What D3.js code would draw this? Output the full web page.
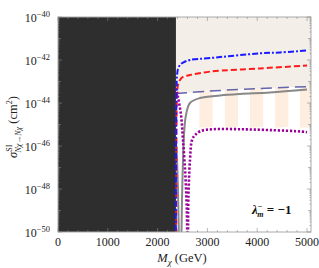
<!DOCTYPE html>
<html><head><meta charset="utf-8">
<script src="https://cdn.jsdelivr.net/npm/d3@7"></script>
<style>body{margin:0;background:#fff}svg{display:block}</style>
</head><body>
<svg id="c" width="319" height="268"></svg>
<script>
// ---- data (M in GeV, log10 sigma in cm^2) ----
const xTicks = [0, 1000, 2000, 3000, 4000, 5000];
const yTickExps = [-40, -42, -44, -46, -48, -50];
const excludedMax = 2368;
const stripeStarts = [2840, 3350, 3855, 4360, 4860];
const stripeWidth = 265;
const stripeBottomLog = [-45.15, -45.12];
const blueM   = [2366, 2370, 2380, 2390, 2409, 2450, 2510, 2650, 3053, 4057, 4458, 5000];
const blueLog = [-50.5, -46.2, -43.4, -42.7, -42.42, -42.23, -42.12, -42.0, -41.91, -41.69, -41.65, -41.56];
const redM    = [2374, 2378, 2390, 2409, 2450, 2510, 2650, 3053, 4057, 5000];
const redLog  = [-50.5, -45.72, -43.63, -43.16, -42.93, -42.79, -42.7, -42.54, -42.39, -42.26];
const slateM   = [2370, 3000, 4000, 5000];
const slateLog = [-43.56, -43.45, -43.33, -43.24];
const grayM   = [2380, 2409, 2430, 2459, 2480, 2490, 2510, 2530, 2570, 2650, 2852, 3253, 3654, 4257, 5000];
const grayLog = [-46.0, -48.0, -50.5, -53, -50.0, -48.5, -46.65, -45.5, -44.56, -44.0, -43.77, -43.65, -43.58, -43.51, -43.37];
const purpleM   = [2370, 2409, 2470, 2510, 2551, 2580, 2594, 2600, 2611, 2617, 2650, 2691, 2751, 2872, 3113, 3654, 4257, 4900, 5000];
const purpleLog = [-43.30, -43.72, -44.56, -45.72, -47.12, -48.51, -50.0, -53, -50.0, -48.51, -46.65, -45.72, -45.49, -45.3, -45.22, -45.22, -45.26, -45.33, -45.36];

const W = 319, H = 268;
const m = {l: 58, r: 8, t: 17, b: 36};
const xMaxDom = 5080;
const svg = d3.select('#c');
const x = d3.scaleLinear().domain([0, xMaxDom]).range([m.l, W - m.r]);
const y = d3.scaleLinear().domain([-50, -40]).range([H - m.b, m.t]);

svg.append('clipPath').attr('id', 'clip').append('rect')
  .attr('x', m.l).attr('y', m.t).attr('width', W - m.l - m.r).attr('height', H - m.t - m.b);
const g = svg.append('g').attr('clip-path', 'url(#clip)');
const pl = d3.line().x(d => x(d[0])).y(d => y(d[1]));

// beige allowed region above slate line
const slatePts = slateM.map((d, i) => [d, slateLog[i]]);
const lastSlate = slateLog[slateLog.length - 1];
g.append('path').attr('fill', '#f3eee7')
  .attr('d', pl([[excludedMax, -40], [xMaxDom, -40], [xMaxDom, lastSlate], ...slatePts.slice().reverse()]) + 'Z');

// stripes
const topAt = d3.scaleLinear().domain(slateM).range(slateLog);
stripeStarts.forEach(s => {
  const e = s + stripeWidth;
  const pts = [[s, topAt(s)], [e, topAt(e)], [e, stripeBottomLog[1]], [s, stripeBottomLog[0]]];
  g.append('path').attr('fill', '#fdeedf').attr('d', pl(pts) + 'Z');
});

// excluded dark region
g.append('rect').attr('x', x(0)).attr('y', y(-40))
  .attr('width', x(excludedMax) - x(0)).attr('height', y(-50) - y(-40)).attr('fill', '#2e2e2e');

function curve(ms, ls, color, w, dash) {
  g.append('path').attr('fill', 'none').attr('stroke', color).attr('stroke-width', w)
    .attr('stroke-dasharray', dash)
    .attr('d', d3.line().x(d => x(d[0])).y(d => y(d[1])).curve(d3.curveCatmullRom)(ms.map((d, i) => [d, ls[i]])));
}
curve(grayM, grayLog, '#888', 2, null);
curve(slateM, slateLog, '#6464aa', 1.5, '11,6');
curve(purpleM, purpleLog, '#990099', 2.6, '2.2,1.8');
curve(redM, redLog, '#ff1a1a', 2, '6,3');
curve(blueM, blueLog, '#1a1aff', 2, '6,2,2,2');

// frame
const fr = svg.append('g');
fr.append('rect').attr('x', m.l).attr('y', m.t).attr('width', W - m.l - m.r).attr('height', H - m.t - m.b)
  .attr('fill', 'none').attr('stroke', '#aaa').attr('stroke-width', 1);

// x ticks
d3.range(0, 5001, 200).forEach(v => {
  const maj = v % 1000 === 0;
  const len = maj ? 4 : 2;
  [[y(-50), -1], [y(-40), 1]].forEach(([yy, dir]) => {
    fr.append('line').attr('x1', x(v)).attr('x2', x(v)).attr('y1', yy).attr('y2', yy + dir * len)
      .attr('stroke', '#888').attr('stroke-width', 0.6);
  });
});
// y ticks
for (let e = -50; e <= -40; e++) {
  for (let k = 1; k <= (e === -40 ? 1 : 9); k++) {
    const v = e + Math.log10(k);
    const len = k === 1 ? (e % 2 === 0 ? 4 : 3) : 1.5;
    [[m.l, 1], [W - m.r, -1]].forEach(([xx, dir]) => {
      fr.append('line').attr('y1', y(v)).attr('y2', y(v)).attr('x1', xx).attr('x2', xx + dir * len)
        .attr('stroke', '#888').attr('stroke-width', 0.6);
    });
  }
}

const font = 'Liberation Serif, Times New Roman, serif';
xTicks.forEach(v => {
  svg.append('text').attr('x', x(v)).attr('y', 246).attr('text-anchor', 'middle')
    .attr('font-family', font).attr('font-size', 12).attr('fill', '#222').text(v);
});
yTickExps.forEach(e => {
  const t = svg.append('text').attr('x', 50).attr('y', y(e) + 5).attr('text-anchor', 'end')
    .attr('font-family', font).attr('font-size', 12).attr('fill', '#222');
  t.append('tspan').text('10');
  t.append('tspan').attr('dy', -5).attr('font-size', 8.5).text('\u2212' + Math.abs(e));
});

// x label
const xl = svg.append('text').attr('x', 182).attr('y', 262).attr('text-anchor', 'middle')
  .attr('font-family', font).attr('font-size', 12.5).attr('fill', '#222');
xl.append('tspan').attr('font-style', 'italic').text('M');
xl.append('tspan').attr('font-style', 'italic').attr('dy', 3).attr('font-size', 9).text('\u03c7');
xl.append('tspan').attr('dy', -3).text(' (GeV)');

// y label
const yl = svg.append('text').attr('transform', 'translate(17,127) rotate(-90)').attr('text-anchor', 'middle')
  .attr('font-family', font).attr('font-size', 12.5).attr('fill', '#222');
yl.append('tspan').attr('font-style', 'italic').text('\u03c3');
yl.append('tspan').attr('dy', -5).attr('font-size', 8).text('SI');
yl.append('tspan').attr('dy', 9).attr('dx', -8).attr('font-size', 8).attr('font-style', 'italic').text('N\u03c7\u2192N\u03c7');
yl.append('tspan').attr('dy', -4).text(' (cm');
yl.append('tspan').attr('dy', -5).attr('font-size', 8).text('2');
yl.append('tspan').attr('dy', 5).text(')');

// annotation
const an = svg.append('text').attr('x', 252).attr('y', 214)
  .attr('font-family', font).attr('font-size', 13).attr('font-weight', 'bold').attr('fill', '#111');
an.append('tspan').attr('font-style', 'italic').text('\u03bb');
an.append('tspan').attr('dy', -5).attr('font-size', 8).text('\u2212');
an.append('tspan').attr('dy', 8).attr('dx', -5).attr('font-size', 8).attr('font-style', 'italic').text('m');
an.append('tspan').attr('dy', -3).text(' = \u22121');
</script>
</body></html>
